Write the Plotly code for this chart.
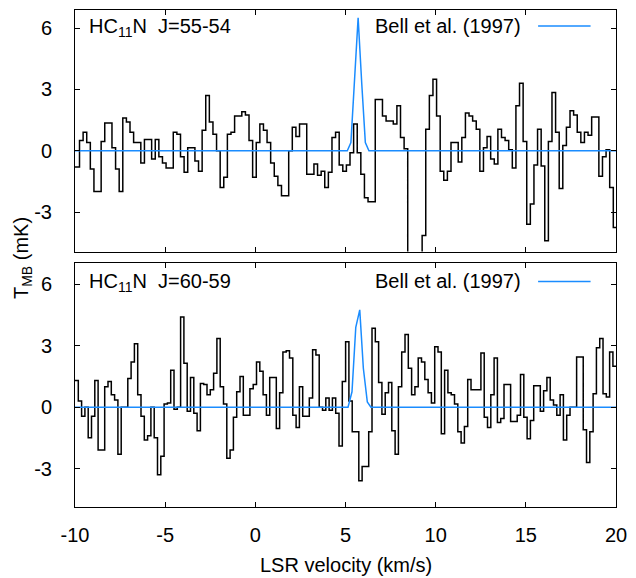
import numpy as np
import plotly.graph_objects as go

# ---------------- data ----------------
# HC11N J=55-54 : channel values (mK), channel width 0.2 km/s, first left edge -9.95 km/s
TOP_V0, TOP_DV = -9.95, 0.2
TOP_VALUES = [
    -0.8, 0.5, 0.9, 0.4, -0.9, -2.0, -2.0, 0.45, 1.35, 1.35,
    0.15, -0.9, -2.0, 1.6, 1.4, 0.9, 0.4, 0.4, -0.6, 0.55,
    0.55, -0.4, 0.55, -0.3, -0.6, -0.85, -0.85, 0.9, 0.8, -0.3,
    -1.05, 0.15, 0.15, -0.5, -1.0, 1.0, 2.7, 1.4, 0.8, 0.0,
    -1.8, -1.3, 0.8, 0.9, 1.7, 1.7, 1.9, 1.75, 0.5, -1.3,
    0.4, 1.3, 1.0, 0.4, -0.6, -1.25, -1.7, -2.2, -2.2, 0.0,
    1.15, 0.7, 1.3, 1.3, -1.15, -1.15, -0.65, -1.2, -1.0, -1.8,
    -1.05, 0.65, 0.9, -0.7, -1.0, -0.7, -0.1, 1.3, -0.1, -1.15,
    -2.3, -2.5, -2.5, 2.5, 2.5, 1.7, 1.45, 1.45, 1.3, 2.2,
    0.65, 0.1, -7.0, -7.0, -7.0, -7.0, -4.15, 1.05, 2.7, 3.5,
    1.7, -1.0, -1.45, -1.0, 0.4, 0.4, -0.55, 0.65, 1.85, 1.7,
    1.45, 1.05, -1.0, 0.15, 0.7, -0.4, -0.65, 1.05, 0.65, 0.5,
    0.05, -0.85, 2.2, 3.3, 0.45, -3.6, -2.6, -0.7, 1.05, -0.75,
    -4.4, 0.45, 2.85, 0.9, -1.85, 0.25, 1.15, 1.95, 1.75, 0.9,
    0.4, 0.9, 0.75, 1.65, 1.65, -1.25, -0.3, 0.05, -1.8, -3.75,
]

# HC11N J=60-59 : channel width 0.183 km/s, first left edge -10.0 km/s
BOT_V0, BOT_DV = -10.0, 0.183
BOT_VALUES = [
    1.3, 0.3, -0.45, 0.0, -1.5, -0.45, 1.3, -2.1, -2.1, 1.0,
    1.25, 0.6, 0.35, -2.3, 0.0, 0.0, 1.4, 2.2, 3.1, 0.6,
    -0.45, -1.6, -1.4, 0.0, -1.5, -3.3, -2.4, 0.15, 0.2, 1.8,
    -0.1, 0.0, 4.4, 2.15, -0.2, 1.45, -0.3, -1.15, 1.15, 1.1,
    0.6, 0.85, 1.65, 3.35, 1.0, 0.15, -2.5, -2.1, -0.5, 0.75,
    1.5, -0.4, -0.4, 0.9, 1.1, 2.2, 1.75, 0.6, -0.4, 1.45,
    1.45, -1.05, 0.7, 2.7, 2.75, 2.4, -0.4, -1.0, 1.0, -0.45,
    -0.45, 0.45, 2.8, 2.55, 0.0, -0.15, 0.45, -0.15, 0.45, -0.3,
    -1.9, 1.25, 3.2, 0.3, -1.2, -1.2, -3.6, -2.9, -2.9, -1.2,
    3.85, 3.2, 1.2, -0.35, 0.7, 1.2, -1.15, -2.3, 1.0, 2.7,
    3.55, 1.9, 0.6, 1.0, 2.4, 2.2, 1.35, 0.7, 0.2, 2.95,
    2.7, -1.3, 1.8, 0.7, 0.6, 0.15, -1.2, -1.75, -0.95, 1.35,
    0.85, 0.85, 0.85, 2.65, -0.5, -1.0, 0.6, 2.4, -0.75, -0.55,
    1.1, 1.1, -0.7, -0.7, -0.4, 1.6, -0.5, -1.55, -0.65, 1.05,
    1.05, -0.2, 0.8, 1.45, 0.35, 0.1, -0.4, 0.6, -1.6, -0.4,
    0.0, 0.0, 2.45, 2.45, -1.1, -2.7, -1.2, 0.65, 2.9, 3.35,
    0.65, 0.5, 2.7, 2.0,
]

# Bell et al. (1997) model lines
TOP_MODEL_V = [-10, 5.1, 5.3, 5.5, 5.7, 5.9, 6.1, 6.3, 20]
TOP_MODEL_T = [0, 0, 0.4, 3.3, 6.5, 3.3, 0.4, 0, 0]
BOT_MODEL_V = [-10, 5.14, 5.36, 5.57, 5.79, 5.99, 6.21, 6.41, 20]
BOT_MODEL_T = [0, 0, 0.75, 3.9, 4.75, 1.9, 0.25, 0, 0]

PANEL_LABELS = ["HC<sub>11</sub>N  J=55-54", "HC<sub>11</sub>N  J=60-59"]
LEGEND_TEXT = "Bell et al. (1997)"
X_TICKS = [-10, -5, 0, 5, 10, 15, 20]
X_TICKTEXT = ["-10", "-5", "0", "5", "10", "15", "20"]
Y_TICKS = [-3, 0, 3, 6]
Y_TICKTEXT = ["-3", "0", "3", "6"]

BLUE = "#1a8cff"
FONT = "Liberation Sans, Arial, sans-serif"
FS = 20


def step_xy(v0, dv, vals):
    edges = v0 + dv * np.arange(len(vals) + 1)
    edges[0] = min(edges[0], -10.2)
    y = list(vals) + [vals[-1]]
    return edges, y


fig = go.Figure()
tx, ty = step_xy(TOP_V0, TOP_DV, TOP_VALUES)
bx, by = step_xy(BOT_V0, BOT_DV, BOT_VALUES)

fig.add_trace(go.Scatter(x=tx, y=ty, mode="lines", line=dict(color="black", width=1.5, shape="hv"),
                         xaxis="x", yaxis="y", showlegend=False, hoverinfo="skip"))
fig.add_trace(go.Scatter(x=TOP_MODEL_V, y=TOP_MODEL_T, mode="lines", line=dict(color=BLUE, width=1.5),
                         xaxis="x", yaxis="y", showlegend=False))
fig.add_trace(go.Scatter(x=bx, y=by, mode="lines", line=dict(color="black", width=1.5, shape="hv"),
                         xaxis="x2", yaxis="y2", showlegend=False, hoverinfo="skip"))
fig.add_trace(go.Scatter(x=BOT_MODEL_V, y=BOT_MODEL_T, mode="lines", line=dict(color=BLUE, width=1.5),
                         xaxis="x2", yaxis="y2", showlegend=False))

axis_common = dict(showline=True, linecolor="black", linewidth=1, mirror="ticks", ticks="inside",
                   ticklen=5, tickcolor="black", showgrid=False, zeroline=False,
                   tickfont=dict(family=FONT, size=FS, color="black"))

fig.update_layout(
    width=636, height=578, autosize=False,
    margin=dict(l=75, r=12, t=9, b=71),
    plot_bgcolor="white", paper_bgcolor="white",
    xaxis=dict(domain=[0, 1], anchor="y", range=[-10, 20], tickvals=X_TICKS,
               showticklabels=False, **axis_common),
    yaxis=dict(domain=[0.514, 1], anchor="x", range=[-4.93, 6.88], tickvals=Y_TICKS,
               ticktext=Y_TICKTEXT, ticklabelstandoff=18, **axis_common),
    xaxis2=dict(domain=[0, 1], anchor="y2", range=[-10, 20], tickvals=X_TICKS,
                ticktext=X_TICKTEXT, ticklabelstandoff=10, **axis_common),
    yaxis2=dict(domain=[0, 0.49], anchor="x2", range=[-4.88, 7.02], tickvals=Y_TICKS,
                ticktext=Y_TICKTEXT, ticklabelstandoff=18, **axis_common),
)

ann = []
for lab, yr, ypos, lpos in [(PANEL_LABELS[0], "y", 0.926, 0.934),
                            (PANEL_LABELS[1], "y2", 0.922, 0.926)]:
    xr = "x" if yr == "y" else "x2"
    ann.append(dict(text=lab, xref=xr + " domain", yref=yr + " domain", x=0.022, y=ypos,
                    xanchor="left", yanchor="middle", showarrow=False,
                    font=dict(family=FONT, size=FS, color="black")))
    ann.append(dict(text=LEGEND_TEXT, xref=xr + " domain", yref=yr + " domain", x=0.829, y=lpos,
                    xanchor="right", yanchor="middle", showarrow=False,
                    font=dict(family=FONT, size=FS, color="black")))
    fig.add_shape(type="line", xref=xr + " domain", yref=yr + " domain",
                  x0=0.856, x1=0.953, y0=lpos, y1=lpos, line=dict(color=BLUE, width=1.5))

ann.append(dict(text="T<sub>MB</sub> (mK)", xref="paper", yref="paper", x=-0.097, y=0.5,
                textangle=-90, xanchor="center", yanchor="middle", showarrow=False,
                font=dict(family=FONT, size=FS, color="black")))
ann.append(dict(text="LSR velocity (km/s)", xref="paper", yref="paper", x=0.5, y=-0.117,
                xanchor="center", yanchor="middle", showarrow=False,
                font=dict(family=FONT, size=FS, color="black")))
fig.update_layout(annotations=ann)

# page without the default 8px body margin / scrollbars, fixed-size (non-responsive) figure
fig.write_html("out.html", config={"displayModeBar": False, "responsive": False},
               post_script="document.documentElement.style.overflow='hidden';"
                           "document.body.style.margin='0';"
                           "document.body.style.overflow='hidden';")
